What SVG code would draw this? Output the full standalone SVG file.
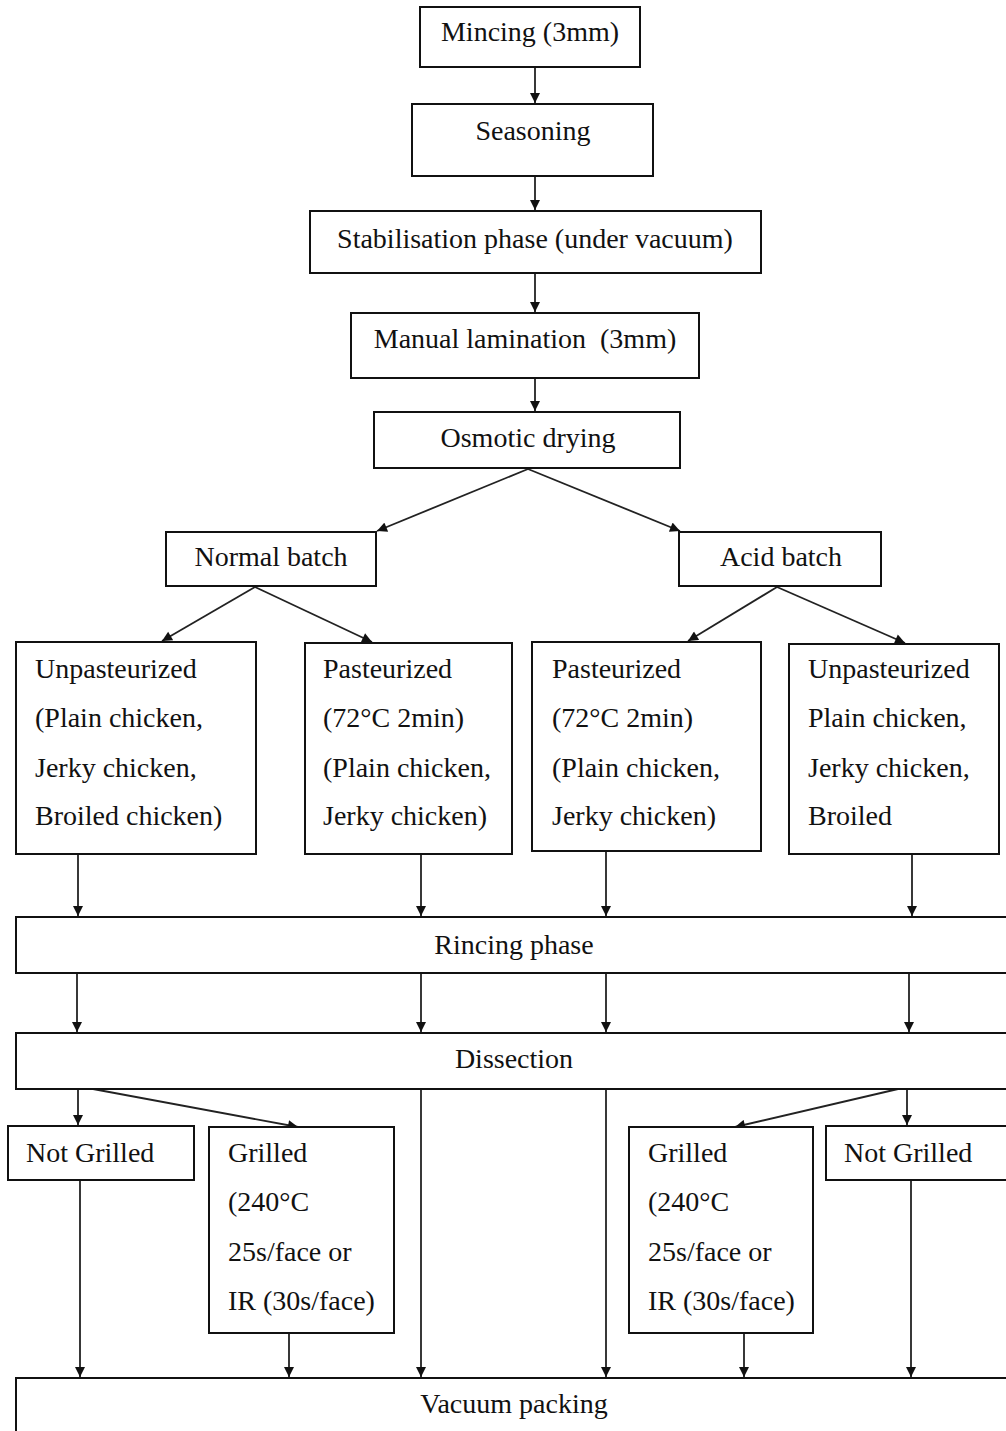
<svg xmlns="http://www.w3.org/2000/svg" width="1006" height="1431" viewBox="0 0 1006 1431">
<style>
.box{fill:#fff;stroke:#111;stroke-width:2}
.t{font-family:"Liberation Serif","Times New Roman",serif;font-size:28px;fill:#111}
.c{text-anchor:middle}
.ln{stroke:#222;stroke-width:1.8;fill:none;marker-end:url(#ah)}
</style>
<defs>
<marker id="ah" viewBox="0 0 10 10" refX="10" refY="5" markerWidth="11" markerHeight="10" markerUnits="userSpaceOnUse" orient="auto">
<path d="M0,0 L10,5 L0,10 z" fill="#111"/>
</marker>
</defs>
<rect width="1006" height="1431" fill="#fff"/>
<g id="connectors">
<line class="ln" x1="535" y1="68" x2="535" y2="103"/>
<line class="ln" x1="535" y1="177" x2="535" y2="210"/>
<line class="ln" x1="535" y1="274" x2="535" y2="312"/>
<line class="ln" x1="535" y1="379" x2="535" y2="411"/>
<line class="ln" x1="528" y1="469" x2="377" y2="531"/>
<line class="ln" x1="528" y1="469" x2="680" y2="531"/>
<line class="ln" x1="255" y1="587" x2="162" y2="641"/>
<line class="ln" x1="255" y1="587" x2="372" y2="642"/>
<line class="ln" x1="777" y1="587" x2="688" y2="641"/>
<line class="ln" x1="777" y1="587" x2="905" y2="643"/>
<line class="ln" x1="78" y1="855" x2="78" y2="916"/>
<line class="ln" x1="421" y1="855" x2="421" y2="916"/>
<line class="ln" x1="606" y1="852" x2="606" y2="916"/>
<line class="ln" x1="912" y1="855" x2="912" y2="916"/>
<line class="ln" x1="77" y1="974" x2="77" y2="1032"/>
<line class="ln" x1="421" y1="974" x2="421" y2="1032"/>
<line class="ln" x1="606" y1="974" x2="606" y2="1032"/>
<line class="ln" x1="909" y1="974" x2="909" y2="1032"/>
<line class="ln" x1="78" y1="1089" x2="78" y2="1125"/>
<line class="ln" x1="93" y1="1089" x2="298" y2="1127"/>
<line class="ln" x1="898" y1="1089" x2="735" y2="1127"/>
<line class="ln" x1="907" y1="1089" x2="907" y2="1125"/>
<line class="ln" x1="421" y1="1089" x2="421" y2="1377"/>
<line class="ln" x1="606" y1="1089" x2="606" y2="1377"/>
<line class="ln" x1="80" y1="1181" x2="80" y2="1377"/>
<line class="ln" x1="289" y1="1334" x2="289" y2="1377"/>
<line class="ln" x1="744" y1="1334" x2="744" y2="1377"/>
<line class="ln" x1="911" y1="1181" x2="911" y2="1377"/>
</g>
<g id="mincing"><rect class="box" x="420" y="7" width="220" height="60"/><text class="t c" x="530" y="41">Mincing (3mm)</text></g>
<g id="seasoning"><rect class="box" x="412" y="104" width="241" height="72"/><text class="t c" x="533" y="140">Seasoning</text></g>
<g id="stabilisation"><rect class="box" x="310" y="211" width="451" height="62"/><text class="t c" x="535" y="248">Stabilisation phase (under vacuum)</text></g>
<g id="lamination"><rect class="box" x="351" y="313" width="348" height="65"/><text class="t c" x="525" y="348" xml:space="preserve">Manual lamination  (3mm)</text></g>
<g id="osmotic"><rect class="box" x="374" y="412" width="306" height="56"/><text class="t c" x="528" y="447">Osmotic drying</text></g>
<g id="normal-batch"><rect class="box" x="166" y="532" width="210" height="54"/><text class="t c" x="271" y="566">Normal batch</text></g>
<g id="acid-batch"><rect class="box" x="679" y="532" width="202" height="54"/><text class="t c" x="781" y="566">Acid batch</text></g>
<g id="unpasteurized-normal"><rect class="box" x="16" y="642" width="240" height="212"/><text class="t" x="35" y="678"><tspan x="35">Unpasteurized</tspan><tspan x="35" dy="49">(Plain chicken,</tspan><tspan x="35" dy="50">Jerky chicken,</tspan><tspan x="35" dy="48">Broiled chicken)</tspan></text></g>
<g id="pasteurized-normal"><rect class="box" x="305" y="643" width="207" height="211"/><text class="t" x="323" y="678"><tspan x="323">Pasteurized</tspan><tspan x="323" dy="49">(72°C 2min)</tspan><tspan x="323" dy="50">(Plain chicken,</tspan><tspan x="323" dy="48">Jerky chicken)</tspan></text></g>
<g id="pasteurized-acid"><rect class="box" x="532" y="642" width="229" height="209"/><text class="t" x="552" y="678"><tspan x="552">Pasteurized</tspan><tspan x="552" dy="49">(72°C 2min)</tspan><tspan x="552" dy="50">(Plain chicken,</tspan><tspan x="552" dy="48">Jerky chicken)</tspan></text></g>
<g id="unpasteurized-acid"><rect class="box" x="789" y="644" width="210" height="210"/><text class="t" x="808" y="678"><tspan x="808">Unpasteurized</tspan><tspan x="808" dy="49">Plain chicken,</tspan><tspan x="808" dy="50">Jerky chicken,</tspan><tspan x="808" dy="48">Broiled</tspan></text></g>
<g id="rincing"><rect class="box" x="16" y="917" width="1000" height="56"/><text class="t c" x="514" y="954">Rincing phase</text></g>
<g id="dissection"><rect class="box" x="16" y="1033" width="1000" height="56"/><text class="t c" x="514" y="1068">Dissection</text></g>
<g id="not-grilled-left"><rect class="box" x="8" y="1126" width="186" height="54"/><text class="t" x="26" y="1162">Not Grilled</text></g>
<g id="grilled-left"><rect class="box" x="209" y="1127" width="185" height="206"/><text class="t" x="228" y="1162"><tspan x="228">Grilled</tspan><tspan x="228" dy="49">(240°C</tspan><tspan x="228" dy="50">25s/face or</tspan><tspan x="228" dy="49">IR (30s/face)</tspan></text></g>
<g id="grilled-right"><rect class="box" x="629" y="1127" width="184" height="206"/><text class="t" x="648" y="1162"><tspan x="648">Grilled</tspan><tspan x="648" dy="49">(240°C</tspan><tspan x="648" dy="50">25s/face or</tspan><tspan x="648" dy="49">IR (30s/face)</tspan></text></g>
<g id="not-grilled-right"><rect class="box" x="826" y="1126" width="190" height="54"/><text class="t" x="844" y="1162">Not Grilled</text></g>
<g id="vacuum-packing"><rect class="box" x="16" y="1378" width="1000" height="70"/><text class="t c" x="514" y="1413">Vacuum packing</text></g>
</svg>
